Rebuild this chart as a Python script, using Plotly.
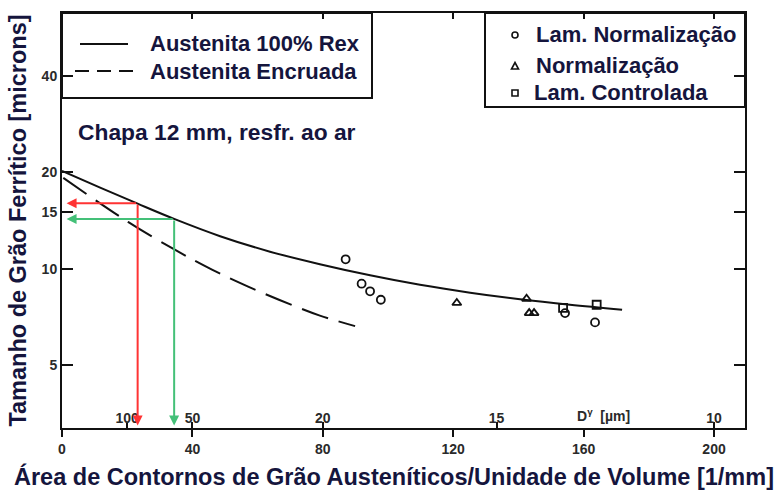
import math
import plotly.graph_objects as go

# ---------------- data ----------------
# Austenita 100% Rex (solid curve)
sv_rex = [0, 11.7, 23.2, 34.4, 48.5, 63.8, 79.1, 94.5, 109.8, 125.2, 140.5, 155.8, 171.8]
d_rex = [20.2, 17.9, 15.95, 14.3, 12.63, 11.3, 10.33, 9.54, 8.91, 8.42, 8.03, 7.72, 7.45]

# Austenita Encruada (dashed curve)
sv_enc = [0.4, 20.25, 35.0, 46.0, 57.1, 70.6, 79.1, 89.9]
d_enc = [19.2, 14.0, 11.4, 9.93, 8.79, 7.7, 7.14, 6.62]

# measured points
sv_lamnorm = [87.0, 91.9, 94.5, 97.8, 154.3, 163.5]
d_lamnorm = [10.7, 8.98, 8.5, 8.0, 7.27, 6.8]
sv_norm = [121.1, 142.5, 143.3, 144.8]
d_norm = [7.82, 8.06, 7.27, 7.27]
sv_lamctrl = [153.7, 164.0]
d_lamctrl = [7.55, 7.72]

# read-off arrows (red, green)
arrow_sv = [23.2, 34.4]
arrow_d = [16.0, 14.3]
arrow_colors = ["#ff3333", "#44c078"]

# axes
x_ticks = [0, 40, 80, 120, 160, 200]
dgamma_pos = [20, 40, 80, 133.3, 200]
dgamma_labels = ["100", "50", "20", "15", "10"]
y_major = [5, 10, 15, 20, 40]
y_minor = [4, 6, 7, 8, 9, 11, 12, 13, 14]

x_range = [0, 209.5]
y_range = [math.log10(3.185), math.log10(62.75)]

TXT = "#15153d"
TICK = "#2a2a2a"
INK = "#111111"
FONT = "Liberation Sans"

fig = go.Figure()

fig.add_trace(go.Scatter(
    x=sv_rex, y=d_rex, mode="lines", name="Austenita 100% Rex",
    line=dict(color=INK, width=2, shape="spline", smoothing=1.0),
    showlegend=False))
fig.add_trace(go.Scatter(
    x=sv_enc, y=d_enc, mode="lines", name="Austenita Encruada",
    line=dict(color=INK, width=2, dash="28px,11px", shape="spline", smoothing=1.0),
    showlegend=False))

mk = dict(color=INK, size=8, line=dict(color=INK, width=1.8))
fig.add_trace(go.Scatter(x=sv_lamnorm, y=d_lamnorm, mode="markers", name="Lam. Normalização",
                         marker=dict(symbol="circle-open", **mk), showlegend=False))
fig.add_trace(go.Scatter(x=sv_norm, y=d_norm, mode="markers", name="Normalização",
                         marker=dict(symbol="triangle-up-open", **mk), showlegend=False))
fig.add_trace(go.Scatter(x=sv_lamctrl, y=d_lamctrl, mode="markers", name="Lam. Controlada",
                         marker=dict(symbol="square-open", **mk), showlegend=False))

# empty traces so the extra tick axes render
fig.add_trace(go.Scatter(x=[None], y=[None], xaxis="x2", showlegend=False, hoverinfo="skip"))
fig.add_trace(go.Scatter(x=[None], y=[None], xaxis="x3", showlegend=False, hoverinfo="skip"))

annotations = []
# arrows from the curve to both axes
y_bottom = 10 ** (y_range[0] + 0.008)
for sv, d, c in zip(arrow_sv, arrow_d, arrow_colors):
    annotations.append(dict(x=sv, y=math.log10(y_bottom), ax=sv, ay=math.log10(d),
                            xref="x", yref="y", axref="x", ayref="y", text="",
                            showarrow=True, arrowhead=2, arrowsize=1.0, arrowwidth=2, arrowcolor=c))
    annotations.append(dict(x=1.4, y=math.log10(d), ax=sv, ay=math.log10(d),
                            xref="x", yref="y", axref="x", ayref="y", text="",
                            showarrow=True, arrowhead=2, arrowsize=1.0, arrowwidth=2, arrowcolor=c))

W, H = 779, 492
L, R, T, B = 62, 34, 13, 64
pw, ph = W - L - R, H - T - B


def px(xp):
    return (xp - L) / pw


def py(yp):
    return 1 - (yp - T) / ph


big = dict(family=FONT, size=22, color=TXT, weight="bold")
title_font = dict(family=FONT, size=23.5, color=TXT, weight="bold")


def note(x, y, text, font=big, anchor="left"):
    return dict(x=px(x), y=py(y), xref="paper", yref="paper", text=text,
                xanchor=anchor, yanchor="middle", showarrow=False, font=font)


annotations += [
    note(148, 44, "Austenita 100% Rex"),
    note(148, 71, "Austenita Encruada"),
    note(534, 35, "Lam. Normalização"),
    note(534, 65, "Normalização"),
    note(532, 92, "Lam. Controlada"),
    note(76, 132, "Chapa 12 mm, resfr. ao ar", font=dict(big, size=22.8)),
    note(394, 476, "Área de Contornos de Grão Austeníticos/Unidade de Volume [1/mm]",
         font=title_font, anchor="center"),
    dict(x=157.4, y=0, xref="x", yref="paper", text="D<sup>γ</sup>  [µm]",
         xanchor="left", yanchor="bottom", yshift=2, showarrow=False,
         font=dict(family=FONT, size=14, color=TICK, weight="bold")),
]

shapes = [
    # legend frames
    dict(type="rect", xref="paper", yref="paper", x0=0, x1=px(372), y0=py(98), y1=1,
         line=dict(color=INK, width=2)),
    dict(type="rect", xref="paper", yref="paper", x0=px(485), x1=1, y0=py(107), y1=1,
         line=dict(color=INK, width=2)),
    # legend line samples
    dict(type="line", xref="paper", yref="paper", x0=px(80), x1=px(128), y0=py(44), y1=py(44),
         line=dict(color=INK, width=2)),
    dict(type="line", xref="paper", yref="paper", x0=px(75), x1=px(135), y0=py(71), y1=py(71),
         line=dict(color=INK, width=2, dash="14px,8px")),
    # legend marker samples
    dict(type="circle", xref="paper", yref="paper", xsizemode="pixel", ysizemode="pixel",
         xanchor=px(515), yanchor=py(35), x0=-3, x1=3, y0=-3, y1=3,
         line=dict(color=INK, width=1.6)),
    dict(type="path", xref="paper", yref="paper", xsizemode="pixel", ysizemode="pixel",
         xanchor=px(515), yanchor=py(66), path="M-3.5,-3 L3.5,-3 L0,3.5 Z",
         line=dict(color=INK, width=1.6)),
    dict(type="rect", xref="paper", yref="paper", xsizemode="pixel", ysizemode="pixel",
         xanchor=px(515), yanchor=py(93), x0=-3, x1=3, y0=-3, y1=3,
         line=dict(color=INK, width=1.6)),
]

# minor ticks of the logarithmic scale on the left and right frame
minor_len = 8 / pw
for v in y_minor:
    for xa, xb in ((0, minor_len), (1 - minor_len, 1)):
        shapes.append(dict(type="line", xref="x domain", yref="y",
                           x0=xa, x1=xb, y0=math.log10(v), y1=math.log10(v),
                           line=dict(color=INK, width=2), layer="above"))

tickfont = dict(family=FONT, size=14, color=TICK, weight="bold")

fig.update_layout(
    width=W, height=H,
    margin=dict(l=L, r=R, t=T, b=B),
    paper_bgcolor="white", plot_bgcolor="white",
    showlegend=False,
    xaxis=dict(range=x_range, tickvals=x_ticks, ticks="outside", ticklen=7, tickwidth=2,
               tickcolor=INK, showline=True, linecolor=INK, linewidth=2,
               showgrid=False, zeroline=False, tickfont=tickfont),
    xaxis2=dict(range=x_range, overlaying="x", side="bottom", anchor="y",
                tickvals=dgamma_pos, ticktext=dgamma_labels, ticks="inside",
                ticklabelposition="inside", ticklabelstandoff=-4,
                ticklen=6, tickwidth=2, tickcolor=INK,
                showline=False, showgrid=False, zeroline=False, tickfont=tickfont),
    xaxis3=dict(range=x_range, overlaying="x", side="top", anchor="y",
                tickvals=x_ticks[1:], ticks="inside", ticklen=6, tickwidth=2, tickcolor=INK,
                showticklabels=False, showline=True, linecolor=INK, linewidth=2,
                showgrid=False, zeroline=False),
    yaxis=dict(type="log", range=y_range, tickmode="array", tickvals=y_major,
               ticktext=[str(v) for v in y_major],
               ticks="inside", ticklen=11, tickwidth=2, tickcolor=INK,
               showline=True, mirror="ticks", linecolor=INK, linewidth=2,
               showgrid=False, zeroline=False, tickfont=tickfont,
               title=dict(text="Tamanho de Grão Ferrítico [microns]", font=title_font, standoff=8)),
    annotations=annotations,
    shapes=shapes,
)

fig.write_html("out.html")
